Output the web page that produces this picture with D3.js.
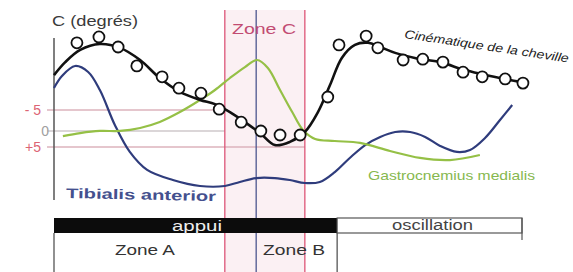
<!DOCTYPE html>
<html>
<head>
<meta charset="utf-8">
<script src="https://cdn.jsdelivr.net/npm/d3@7"></script>
<style>
  body { margin: 0; background: #fff; }
  svg { display: block; font-family: "Liberation Sans", Arial, sans-serif; }
</style>
</head>
<body>
<div id="chart"></div>
<script>
// gait cycle, % of the cycle
var angleTicks = [-5, 0, 5];
var tickLabels = ["- 5", "0", "+5"];

// measured ankle angle (open circles), degrees
var circlePct = [4.9, 9.6, 13.7, 17.7, 23.1, 26.7, 31.4, 35.3, 40.0, 44.2, 48.3, 52.6, 58.5,
  60.9, 66.7, 69.2, 74.6, 78.8, 83.1, 87.4, 91.5, 96.4, 100.2];
var circleDeg = [-21.0, -22.4, -20.0, -15.5, -12.9, -10.2, -9.0, -5.2, -2.1, 0, 1.25, 1.25, -8.1,
  -20.5, -22.6, -19.8, -16.9, -17.1, -16.4, -14.0, -12.9, -12.4, -11.4];

// fitted ankle curve
var anklePct = [0, 2.4, 5.6, 9.8, 14.1, 18.4, 22.6, 26.9, 31.2, 34.4, 37.6, 40.8, 44, 47.2, 50.4,
  53.6, 56.4, 59, 61.5, 64.3, 67.1, 69.7, 72.9, 77.1, 82.5, 87.8, 93.2, 99.6];
var ankleDeg = [-13.3, -16.4, -19.3, -20.7, -19.8, -16.9, -12.6, -9.3, -7.4, -6.4, -4.5, -2.1, 0.6, 4.4, 3.4,
  0.3, -4.5, -11, -17.4, -20.5, -21, -20, -18.6, -17.4, -16.4, -14.5, -13.1, -11.7];

// EMG activity (arbitrary %)
var tibPct = [0, 1.7, 4.5, 7.3, 9.8, 13, 16.2, 19.9, 25.4, 31.2, 36.5, 39.7, 43.2, 47.2, 50.4,
  53.6, 56.8, 60, 63.2, 66.5, 69.7, 72.9, 76.1, 79.3, 82.5, 86.1, 88.9, 92.1, 95.3, 97.9];
var tibAct = [71.3, 79.3, 86, 82, 70, 46.7, 28.7, 16.7, 10, 6, 6, 8.7, 11.3, 11.3, 10,
  8, 8.7, 15.3, 24.7, 33.3, 38.7, 42, 42, 38.7, 32.7, 28.7, 30, 38, 50, 60];

var gasPct = [1.9, 5.6, 9.8, 14.1, 18.4, 22.6, 26.9, 31.2, 34.4, 37.6, 40.8, 43.4, 45.7, 48.3,
  50.9, 53.2, 55.8, 60, 65.4, 71.8, 78.2, 84.6, 91];
var gasAct = [39.3, 41.3, 42.7, 42.7, 44.7, 48.7, 55.3, 63.3, 70, 78, 85.3, 90, 84.7, 70,
  55.3, 43.3, 37.3, 36, 34.7, 29.3, 24.7, 23.3, 26.7];

// phase boundaries (% cycle)
var zoneC = [36.5, 53.6];
var midLine = 43.2;
var stanceEnd = 60.5;

var width = 573,
  height = 272;

var x = d3.scaleLinear().domain([0, 100]).range([54, 522]);
var yDeg = d3.scaleLinear().domain([-5, 0, 5]).range([110, 131, 147]);
var yEmg = d3.scaleLinear().domain([0, 100]).range([195, 45]);

var svg = d3.select('#chart')
  .append('svg')
  .attr('width', width)
  .attr('height', height);

// small helper, the source picture has wide letters
function label(px, py, str, size, fill, len, anchor) {
  var t = svg.append('text')
    .attr('x', px)
    .attr('y', py)
    .style('font-size', size + 'px')
    .style('fill', fill)
    .text(str);
  if (anchor) t.attr('text-anchor', anchor);
  if (len) t.attr('textLength', len).attr('lengthAdjust', 'spacingAndGlyphs');
  return t;
}

// zone C shading
svg.append('rect')
  .attr('x', x(zoneC[0]))
  .attr('y', 10)
  .attr('width', x(zoneC[1]) - x(zoneC[0]))
  .attr('height', height - 10)
  .style('fill', '#fbf0f3');

// reference lines
var refEnds = [x(zoneC[0]), x(zoneC[0]), x(zoneC[1])];
var refColors = ['#dcb3bc', '#cfc9cb', '#dcb3bc'];
svg.selectAll('.ref')
  .data(angleTicks)
  .enter()
  .append('line')
  .attr('class', 'ref')
  .attr('x1', 47)
  .attr('x2', function(d, i) { return refEnds[i]; })
  .attr('y1', function(d) { return yDeg(d); })
  .attr('y2', function(d) { return yDeg(d); })
  .style('stroke', function(d, i) { return refColors[i]; })
  .style('stroke-width', 1.5);

svg.selectAll('.tick-label')
  .data(angleTicks)
  .enter()
  .append('text')
  .attr('class', 'tick-label')
  .attr('x', function(d, i) { return i == 1 ? 49 : 41; })
  .attr('y', function(d) { return yDeg(d) + 5; })
  .attr('text-anchor', 'end')
  .style('font-size', '14px')
  .style('fill', function(d, i) { return i == 1 ? '#a0a0a0' : '#dc6474'; })
  .text(function(d, i) { return tickLabels[i]; });

// y axis
svg.append('line')
  .attr('x1', x(0)).attr('x2', x(0))
  .attr('y1', 38).attr('y2', 200)
  .style('stroke', '#555').style('stroke-width', 1.5);

label(52, 26, 'C (degrés)', 15, '#3a3a3a', 86);

// vertical phase lines
svg.selectAll('.vline')
  .data([zoneC[0], midLine, zoneC[1]])
  .enter()
  .append('line')
  .attr('class', 'vline')
  .attr('x1', function(d) { return x(d); })
  .attr('x2', function(d) { return x(d); })
  .attr('y1', 10)
  .attr('y2', height)
  .style('stroke', function(d, i) { return i == 1 ? '#4c568e' : '#dc5577'; })
  .style('stroke-width', 1.3);

label(232, 34, 'Zone C', 15, '#c24b72', 64);

// curves
var line = d3.line()
  .x(function(d) { return x(d[0]); })
  .y(function(d) { return d[1]; })
  .curve(d3.curveCatmullRom);

svg.append('path')
  .datum(tibPct.map(function(p, i) { return [p, yEmg(tibAct[i])]; }))
  .attr('d', line)
  .style('fill', 'none')
  .style('stroke', '#2f3c7c')
  .style('stroke-width', 2.2);

svg.append('path')
  .datum(gasPct.map(function(p, i) { return [p, yEmg(gasAct[i])]; }))
  .attr('d', line)
  .style('fill', 'none')
  .style('stroke', '#95c046')
  .style('stroke-width', 2.2);

svg.append('path')
  .datum(anklePct.map(function(p, i) { return [p, yDeg(ankleDeg[i])]; }))
  .attr('d', line)
  .style('fill', 'none')
  .style('stroke', '#111')
  .style('stroke-width', 2.6);

svg.selectAll('.pt')
  .data(circlePct)
  .enter()
  .append('circle')
  .attr('class', 'pt')
  .attr('cx', function(d) { return x(d); })
  .attr('cy', function(d, i) { return yDeg(circleDeg[i]); })
  .attr('r', 5.5)
  .style('fill', '#fff')
  .style('stroke', '#111')
  .style('stroke-width', 1.8);

// curve labels
label(0, 0, 'Cinématique de la cheville', 12, '#222', 166)
  .attr('transform', 'translate(404,38) rotate(8.5)')
  .style('font-style', 'italic');

label(0, 0, 'Tibialis anterior', 14, '#44508e', 150)
  .attr('transform', 'translate(66,198) rotate(1.2)')
  .style('font-weight', 'bold');

label(368, 180, 'Gastrocnemius medialis', 13, '#86b84e', 167);

// stance / swing bar
svg.append('rect')
  .attr('x', x(0)).attr('y', 218)
  .attr('width', x(stanceEnd) - x(0)).attr('height', 15)
  .style('fill', '#0c0c0c');

svg.append('rect')
  .attr('x', x(stanceEnd)).attr('y', 218)
  .attr('width', x(100) - x(stanceEnd)).attr('height', 15)
  .style('fill', '#fff')
  .style('stroke', '#555')
  .style('stroke-width', 1.2);

svg.append('line')
  .attr('x1', x(100)).attr('x2', x(100))
  .attr('y1', 218).attr('y2', 240)
  .style('stroke', '#555').style('stroke-width', 1.2);

label(172, 231, 'appui', 14, '#eee', 50);
label(392, 230, 'oscillation', 14, '#444', 81);

// zone dividers below the bar
svg.selectAll('.zline')
  .data([0, stanceEnd])
  .enter()
  .append('line')
  .attr('class', 'zline')
  .attr('x1', function(d) { return x(d); })
  .attr('x2', function(d) { return x(d); })
  .attr('y1', 233).attr('y2', height)
  .style('stroke', '#555').style('stroke-width', 1.3);

label(115, 255, 'Zone A', 15, '#333', 60);
label(263, 255, 'Zone B', 15, '#333', 62);
</script>
</body>
</html>
